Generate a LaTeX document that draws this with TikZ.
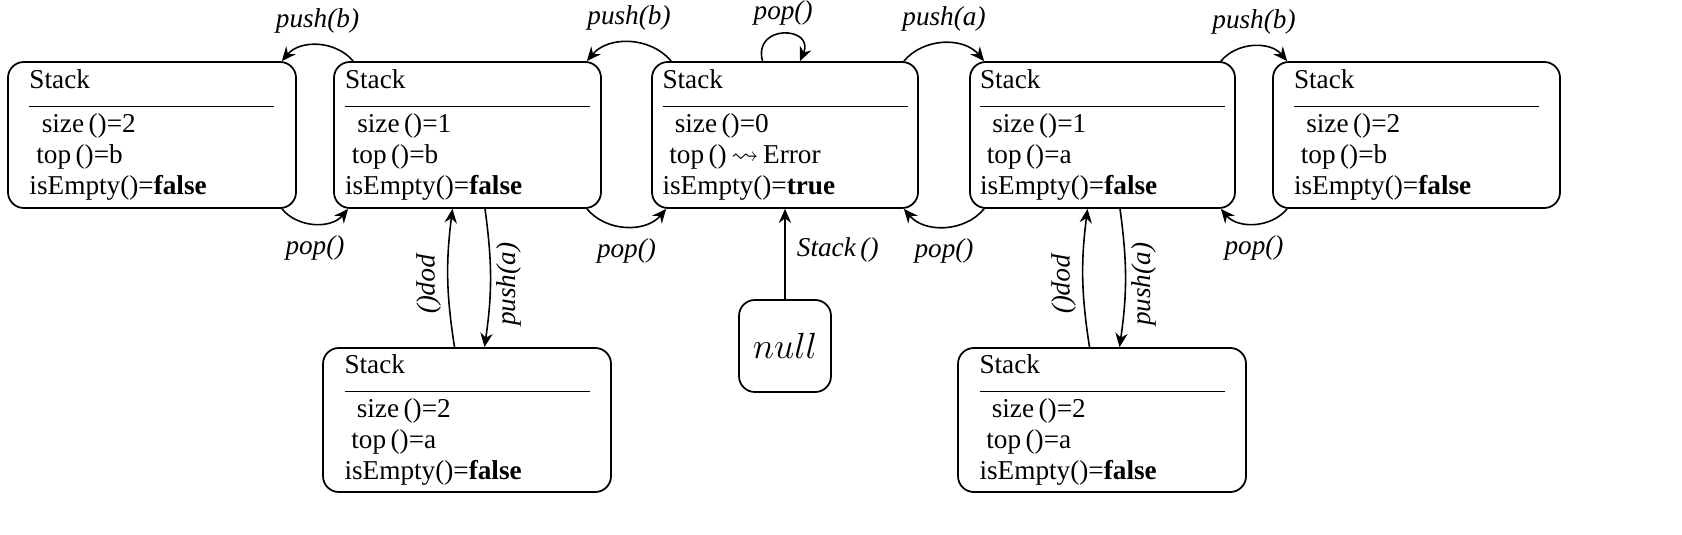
\documentclass[tikz,border=0pt]{standalone}
\usepackage{amssymb}
\usepackage{fontspec}
\setmainfont{Liberation Serif}
\usetikzlibrary{arrows.meta,positioning}

% state box contents
\newcommand{\stackstate}[3]{Stack\\[-7pt]\rule{\linewidth}{0.7pt}\\[-3pt]
  \hspace*{0.45em}size\,()=#1\\ \hspace*{0.25em}top\,()#2\\ isEmpty()=\textbf{#3}}

\begin{document}
\begin{tikzpicture}[line join=round, line cap=round,
    every node/.style={font=\fontsize{15.5}{17.5}\selectfont},
    state/.style={draw, rounded corners=9pt, line width=1pt, minimum height=2.92cm,
      text width=4.9cm, align=left, inner sep=0pt},
    trans/.style={-{Stealth[length=8pt,width=7pt]}, line width=0.9pt},
    lbl/.style={font=\fontsize{15.5}{17.5}\selectfont\itshape}]

  \useasboundingbox (0,0) rectangle (33.64,10.68);

  % states
  \node[state, minimum width=5.76cm] (s2l) at (3.04,7.98) {\stackstate{2}{=b}{false}};
  \node[state, minimum width=5.34cm] (s1l) at (9.35,7.98) {\stackstate{1}{=b}{false}};
  \node[state, minimum width=5.32cm] (s0)  at (15.7,7.98) {\stackstate{0}{\,$\rightsquigarrow$\,Error}{true}};
  \node[state, minimum width=5.30cm] (s1r) at (22.05,7.98) {\stackstate{1}{=a}{false}};
  \node[state, minimum width=5.74cm] (s2r) at (28.33,7.98) {\stackstate{2}{=b}{false}};
  \node[state, minimum width=5.76cm, minimum height=2.88cm] (s2bl) at (9.34,2.28) {\stackstate{2}{=a}{false}};
  \node[state, minimum width=5.76cm, minimum height=2.88cm] (s2br) at (22.04,2.28) {\stackstate{2}{=a}{false}};
  \node[draw, rounded corners=9pt, line width=1pt, minimum size=1.84cm] (null) at (15.7,3.76)
    {\fontsize{20}{22}\selectfont$null$};

  % horizontal transitions
  \draw[trans] ([xshift=0.4cm]s1l.north west) to[bend right=50] node[lbl,above=3pt] {push(b)} ([xshift=-0.3cm]s2l.north east);
  \draw[trans] ([xshift=-0.3cm]s2l.south east) to[bend right=50] node[lbl,below=3pt] {pop()} ([xshift=0.3cm]s1l.south west);
  \draw[trans] ([xshift=0.4cm]s0.north west) to[bend right=50] node[lbl,above=3pt] {push(b)} ([xshift=-0.3cm]s1l.north east);
  \draw[trans] ([xshift=-0.3cm]s1l.south east) to[bend right=50] node[lbl,below=3pt] {pop()} ([xshift=0.3cm]s0.south west);
  \draw[trans] ([xshift=-0.3cm]s0.north east) to[bend left=50] node[lbl,above=3pt] {push(a)} ([xshift=0.3cm]s1r.north west);
  \draw[trans] ([xshift=0.3cm]s1r.south west) to[bend left=50] node[lbl,below=3pt] {pop()} ([xshift=-0.3cm]s0.south east);
  \draw[trans] ([xshift=-0.3cm]s1r.north east) to[bend left=50] node[lbl,above=3pt] {push(b)} ([xshift=0.3cm]s2r.north west);
  \draw[trans] ([xshift=0.3cm]s2r.south west) to[bend left=50] node[lbl,below=3pt] {pop()} ([xshift=-0.3cm]s1r.south east);

  % self loop
  \draw[trans] ([xshift=-0.45cm]s0.north) .. controls +(-0.2,0.75) and +(0.3,0.7) .. node[lbl,above=1pt] {pop()} ([xshift=0.3cm]s0.north);

  % vertical transitions
  \draw[trans] ([xshift=-0.25cm]s2bl.north) to[bend left=8] node[lbl,rotate=-90,anchor=north,pos=0.45] {pop()} ([xshift=-0.3cm]s1l.south);
  \draw[trans] ([xshift=0.35cm]s1l.south) to[bend left=8] node[lbl,rotate=90,anchor=north,pos=0.55] {push(a)} ([xshift=0.35cm]s2bl.north);
  \draw[trans] ([xshift=-0.25cm]s2br.north) to[bend left=8] node[lbl,rotate=-90,anchor=north,pos=0.45] {pop()} ([xshift=-0.3cm]s1r.south);
  \draw[trans] ([xshift=0.35cm]s1r.south) to[bend left=8] node[lbl,rotate=90,anchor=north,pos=0.55] {push(a)} ([xshift=0.35cm]s2br.north);
  \draw[trans] (null) -- node[lbl,right=3pt,pos=0.55] {Stack\,()} (s0);

\end{tikzpicture}
\end{document}
